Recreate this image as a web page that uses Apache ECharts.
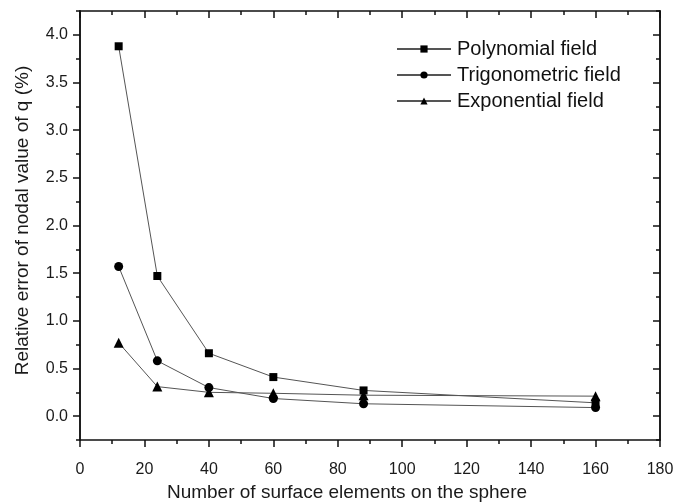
<!DOCTYPE html>
<html>
<head>
<meta charset="utf-8">
<script src="https://cdn.jsdelivr.net/npm/echarts@6/dist/echarts.min.js"></script>
<style>
  html, body { margin: 0; padding: 0; background: #fff; }
  #main { width: 675px; height: 502px; }
</style>
</head>
<body>
<div id="main"></div>
<script>
// data
const elements = [12, 24, 40, 60, 88, 160];
const polynomial = [3.88, 1.47, 0.66, 0.41, 0.27, 0.14];
const trigonometric = [1.57, 0.58, 0.30, 0.185, 0.13, 0.09];
const exponential = [0.77, 0.31, 0.25, 0.24, 0.22, 0.21];

const yMajor = [0, 0.5, 1, 1.5, 2, 2.5, 3, 3.5, 4];
const yMinor = [-0.25, 0.25, 0.75, 1.25, 1.75, 2.25, 2.75, 3.25, 3.75, 4.25];

const font = 'Liberation Sans, Arial, sans-serif';
const ink = '#1a1a1a';

function pairs(ys) {
  return elements.map((x, i) => [x, ys[i]]);
}

function yAxisDef(position, ticks, len, inside, labels) {
  return {
    type: 'value',
    position: position,
    min: -0.25,
    max: 4.25,
    name: labels ? 'Relative error of nodal value of q (%)' : '',
    nameLocation: 'middle',
    nameGap: 48,
    nameTextStyle: { fontFamily: font, fontSize: 19, color: ink, padding: [0, 0, 0, 10] },
    axisLine: { show: true, onZero: false, lineStyle: { color: '#111', width: 1.5 } },
    axisTick: { show: true, inside: inside, length: len, customValues: ticks, lineStyle: { color: '#111', width: 1.5 } },
    axisLabel: labels ? {
      show: true, customValues: yMajor, margin: 12,
      fontFamily: font, fontSize: 16, color: ink,
      formatter: v => v.toFixed(1)
    } : { show: false },
    splitLine: { show: false }
  };
}

const chart = echarts.init(document.getElementById('main'));
chart.setOption({
  animation: false,
  backgroundColor: '#fff',
  grid: { left: 80, right: 15, top: 11, bottom: 62, outerBoundsMode: 'none' },
  legend: {
    orient: 'vertical',
    left: 391,
    top: 34,
    itemWidth: 54,
    itemHeight: 9,
    itemGap: 6,
    textStyle: { fontFamily: font, fontSize: 20, color: '#111', padding: [0, 0, 0, 1] },
    data: ['Polynomial field', 'Trigonometric field', 'Exponential field']
  },
  xAxis: [{
    type: 'value',
    min: 0,
    max: 180,
    interval: 20,
    name: 'Number of surface elements on the sphere',
    nameLocation: 'middle',
    nameGap: 43,
    nameTextStyle: { fontFamily: font, fontSize: 19, color: ink, padding: [0, 46, 0, 0] },
    axisLine: { show: true, onZero: false, lineStyle: { color: '#111', width: 1.5 } },
    axisTick: { show: true, inside: false, length: 7, lineStyle: { color: '#111', width: 1.5 } },
    minorTick: { show: true, splitNumber: 2, length: 4, lineStyle: { color: '#111', width: 1.5 } },
    axisLabel: { margin: 22, fontFamily: font, fontSize: 16, color: ink },
    splitLine: { show: false }
  }, {
    type: 'value',
    position: 'top',
    min: 0,
    max: 180,
    interval: 20,
    axisLine: { show: true, onZero: false, lineStyle: { color: '#111', width: 1.5 } },
    axisTick: { show: true, inside: true, length: 7, lineStyle: { color: '#111', width: 1.5 } },
    minorTick: { show: true, splitNumber: 2, length: 4, lineStyle: { color: '#111', width: 1.5 } },
    axisLabel: { show: false },
    splitLine: { show: false }
  }],
  yAxis: [
    yAxisDef('left', yMajor, 7, false, true),
    yAxisDef('left', yMinor, 4, false, false),
    yAxisDef('right', yMajor, 7, true, false),
    yAxisDef('right', yMinor, 4, true, false)
  ],
  series: [
    { name: 'Polynomial field', type: 'line', symbol: 'rect', symbolSize: 8, data: pairs(polynomial) },
    { name: 'Trigonometric field', type: 'line', symbol: 'circle', symbolSize: 9, data: pairs(trigonometric) },
    { name: 'Exponential field', type: 'line', symbol: 'triangle', symbolSize: 10, data: pairs(exponential) }
  ].map(s => Object.assign(s, {
    lineStyle: { color: '#555', width: 1 },
    itemStyle: { color: '#000' }
  }))
});
</script>
</body>
</html>
